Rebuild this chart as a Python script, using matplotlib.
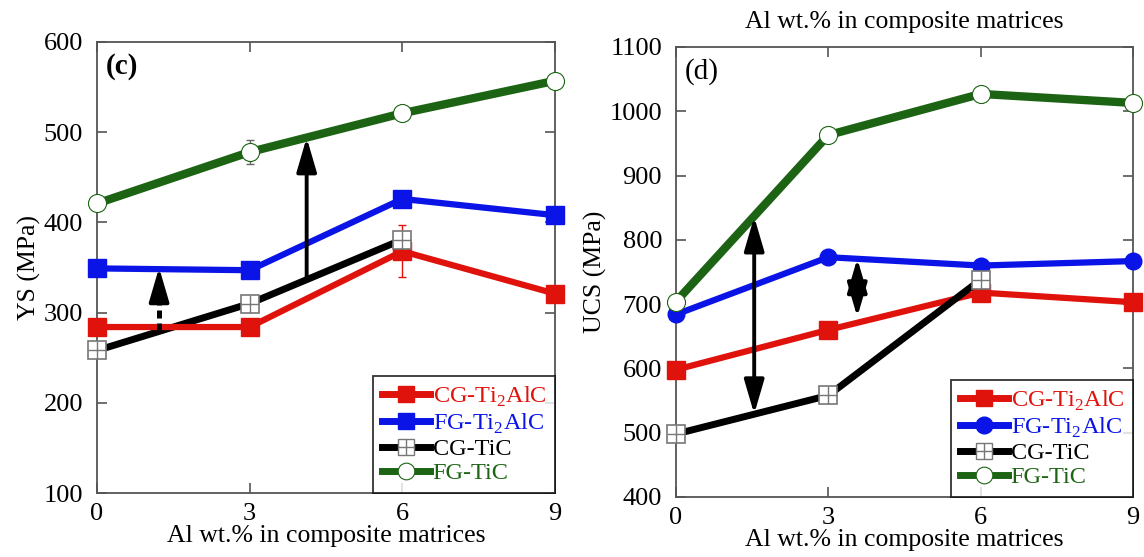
import numpy as np
import matplotlib

matplotlib.use("Agg")
import matplotlib.pyplot as plt
from matplotlib.lines import Line2D

plt.rcParams["font.family"] = ["Liberation Serif", "DejaVu Serif"]

# Al content of the composite matrices (wt.%)
al_wt = [0, 3, 6, 9]

# (c) yield strength, MPa
ys_cg_ti2alc = [284, 284, 368, 321]
ys_cg_ti2alc_err = [0, 0, 29, 0]
ys_fg_ti2alc = [349, 347, 426, 408]
ys_cg_tic = [258, 310, 381]
ys_fg_tic = [421, 478, 521, 557]
ys_fg_tic_err = [0, 13, 0, 0]

# (d) ultimate compressive strength, MPa
ucs_cg_ti2alc = [598, 660, 718, 703]
ucs_fg_ti2alc = [684, 773, 760, 767]
ucs_cg_tic = [498, 558, 738]
ucs_fg_tic = [704, 963, 1027, 1013]

RED = "#e0120c"
BLUE = "#0a14e6"
BLACK = "#000000"
GREEN = "#1c6414"
TICK_FS = 19
TXT = 18.5
LEG_FS = 17.5


def open_square(ax, x, y):
    ax.plot(x, y, "s", ms=13, mfc="white", mec="#777777", mew=1.2, zorder=6, clip_on=False)
    ax.plot(x, y, "+", ms=13, mec="#777777", mew=1.0, zorder=7, clip_on=False)


def style_axes(ax, ylim, yticks):
    ax.set_xlim(0, 9)
    ax.set_ylim(*ylim)
    ax.set_xticks([0, 3, 6, 9])
    ax.set_yticks(yticks)
    ax.tick_params(direction="in", top=True, right=True, length=7, width=1.2,
                   color="#555555", labelsize=TICK_FS, pad=7)
    ax.tick_params(axis="y", pad=10)
    for s in ax.spines.values():
        s.set_color("#555555")
        s.set_linewidth(1.3)
    ax.set_xlabel("Al wt.% in composite matrices", fontsize=TXT, labelpad=0)


def add_legend(ax, blue_marker):
    black_sq = (
        Line2D([], [], color=BLACK, lw=5, marker="s", ms=12, mfc="white", mec="#777777"),
        Line2D([], [], ls="none", marker="+", ms=12, mec="#777777", mew=1.0),
    )
    handles = [
        Line2D([], [], color=RED, lw=5, marker="s", ms=12),
        Line2D([], [], color=BLUE, lw=5, marker=blue_marker, ms=12),
        black_sq,
        Line2D([], [], color=GREEN, lw=5, marker="o", ms=12, mfc="white", mec=GREEN, mew=0.8),
    ]
    labels = ["CG-Ti$_{\\mathregular{2}}$AlC", "FG-Ti$_{\\mathregular{2}}$AlC", "CG-TiC", "FG-TiC"]
    leg = ax.legend(handles, labels, loc="lower right", fontsize=LEG_FS, frameon=True,
                    fancybox=False, edgecolor="black", handlelength=2.0,
                    handletextpad=0.1, borderaxespad=0, labelspacing=0.1,
                    borderpad=0.35)
    leg.get_frame().set_linewidth(1.3)
    for t, c in zip(leg.get_texts(), [RED, BLUE, BLACK, GREEN]):
        t.set_color(c)


HEAD = dict(arrowstyle="-|>,head_width=0.38,head_length=1.3", mutation_scale=16,
            color="black", lw=2.8, shrinkA=0, shrinkB=0)


def solid_arrow(ax, x, y0, y1, both=False):
    style = "<|-|>" if both else "-|>"
    props = dict(HEAD, arrowstyle=style + ",head_width=0.38,head_length=1.3")
    ax.annotate("", xy=(x, y1), xytext=(x, y0), arrowprops=props, zorder=8)


def dashed_arrow(ax, x, y0, y1, head_len, both=False):
    # dashed shaft, solid heads
    lo = y0 + head_len if both else y0
    ax.plot([x, x], [lo, y1 - head_len], color="black", lw=3.6,
            ls=(0, (1.6, 1.0)), solid_capstyle="butt", zorder=8)
    ax.annotate("", xy=(x, y1), xytext=(x, y1 - head_len * 1.05), arrowprops=HEAD, zorder=8)
    if both:
        ax.annotate("", xy=(x, y0), xytext=(x, y0 + head_len * 1.05), arrowprops=HEAD,
                    zorder=8)


fig = plt.figure(figsize=(11.44, 5.57), dpi=100)
ax1 = fig.add_axes([97 / 1144, 64 / 557, 458 / 1144, 451 / 557])
ax2 = fig.add_axes([676 / 1144, 60 / 557, 457 / 1144, 450 / 557])

# ---- (c) YS ----
ax1.plot(al_wt, ys_fg_tic, color=GREEN, lw=6, zorder=3)
ax1.errorbar(al_wt, ys_fg_tic, yerr=ys_fg_tic_err, fmt="none", ecolor="#666666",
             elinewidth=1, capsize=3, zorder=4)
ax1.plot(al_wt, ys_fg_tic, "o", ms=13, mfc="white", mec=GREEN, mew=0.8, zorder=5,
         clip_on=False)
ax1.plot(al_wt, ys_fg_ti2alc, color=BLUE, lw=4.5, marker="s", ms=13, zorder=3,
         clip_on=False)
ax1.plot(al_wt[:3], ys_cg_tic, color=BLACK, lw=5, zorder=3)
open_square(ax1, al_wt[:3], ys_cg_tic)
ax1.plot(al_wt, ys_cg_ti2alc, color=RED, lw=4.5, marker="s", ms=13, zorder=4,
         clip_on=False)
ax1.errorbar(al_wt, ys_cg_ti2alc, yerr=ys_cg_ti2alc_err, fmt="none", ecolor=RED,
             elinewidth=1, capsize=3, zorder=5)

solid_arrow(ax1, 4.12, 337, 494)
dashed_arrow(ax1, 1.22, 280, 350, head_len=28)

style_axes(ax1, (100, 600), [100, 200, 300, 400, 500, 600])
ax1.set_ylabel("YS (MPa)", fontsize=TXT, labelpad=2)
ax1.text(0.02, 0.975, "(c)", transform=ax1.transAxes, fontsize=21,
         fontweight="bold", va="top", ha="left")
add_legend(ax1, "s")

# ---- (d) UCS ----
ax2.plot(al_wt, ucs_fg_tic, color=GREEN, lw=6, zorder=3)
ax2.plot(al_wt, ucs_fg_tic, "o", ms=13, mfc="white", mec=GREEN, mew=0.8, zorder=5,
         clip_on=False)
ax2.plot(al_wt, ucs_fg_ti2alc, color=BLUE, lw=4.5, marker="o", ms=12, zorder=3,
         clip_on=False)
ax2.plot(al_wt, ucs_cg_ti2alc, color=RED, lw=4.5, marker="s", ms=13, zorder=4,
         clip_on=False)
ax2.plot(al_wt[:3], ucs_cg_tic, color=BLACK, lw=5, zorder=4)
open_square(ax2, al_wt[:3], ucs_cg_tic)

solid_arrow(ax2, 1.54, 529, 836, both=True)
dashed_arrow(ax2, 3.57, 680, 771, head_len=38, both=True)

style_axes(ax2, (400, 1100), [400, 500, 600, 700, 800, 900, 1000, 1100])
ax2.set_ylabel("UCS (MPa)", fontsize=TXT, labelpad=2)
ax2.text(0.02, 0.975, "(d)", transform=ax2.transAxes, fontsize=21,
         va="top", ha="left")
ax2.set_title("Al wt.% in composite matrices", fontsize=TXT, pad=14)
add_legend(ax2, "o")

fig.savefig("out.png", dpi=100)
